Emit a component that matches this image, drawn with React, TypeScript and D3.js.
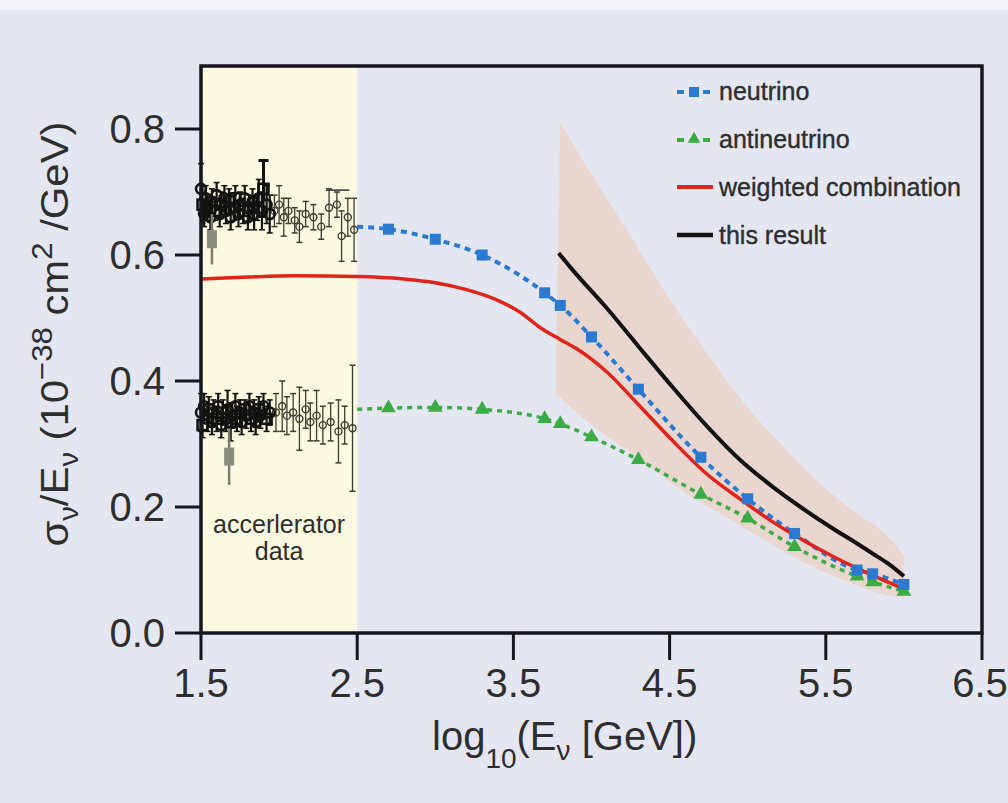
import React from "react";
import * as d3 from "d3";

// ---------- data ----------
const xTicks = [1.5, 2.5, 3.5, 4.5, 5.5, 6.5];
const yTicks = [0.0, 0.2, 0.4, 0.6, 0.8];

const nuX = [2.5, 2.7, 3.0, 3.3, 3.7, 3.8, 4.0, 4.3, 4.7, 5.0, 5.3, 5.7, 5.8, 6.0];
const nuY = [0.645, 0.641, 0.625, 0.6, 0.54, 0.52, 0.47, 0.387, 0.279, 0.213, 0.158, 0.1, 0.094, 0.077];

const anuX = [2.5, 2.7, 3.0, 3.3, 3.7, 3.8, 4.0, 4.3, 4.7, 5.0, 5.3, 5.7, 5.8, 6.0];
const anuY = [0.355, 0.357, 0.358, 0.355, 0.34, 0.332, 0.311, 0.275, 0.22, 0.182, 0.137, 0.09, 0.081, 0.066];

const combX = [1.5, 1.8, 2.1, 2.5, 2.8, 3.0, 3.2, 3.4, 3.55, 3.67, 3.8, 3.9, 4.1, 4.31, 4.52, 4.74, 4.95, 5.15, 5.35, 5.55, 5.75, 6.0];
const combY = [0.562, 0.565, 0.567, 0.566, 0.562, 0.556, 0.545, 0.528, 0.508, 0.485, 0.466, 0.452, 0.414, 0.36, 0.305, 0.252, 0.213, 0.178, 0.148, 0.121, 0.097, 0.07];

const resX = [3.79, 3.88, 4.1, 4.31, 4.52, 4.74, 4.95, 5.15, 5.35, 5.55, 5.7, 5.8, 5.9, 6.0];
const resY = [0.603, 0.576, 0.515, 0.452, 0.39, 0.328, 0.275, 0.234, 0.198, 0.165, 0.142, 0.126, 0.11, 0.09];

const bandUpX = [3.8, 3.97, 4.25, 4.5, 4.75, 5.0, 5.25, 5.46, 5.67, 5.89, 6.0];
const bandUpY = [0.81, 0.74, 0.63, 0.53, 0.44, 0.358, 0.29, 0.238, 0.195, 0.155, 0.124];
const bandLoX = [3.77, 4.0, 4.3, 4.6, 4.82, 5.03, 5.25, 5.46, 5.67, 5.89, 6.0];
const bandLoY = [0.381, 0.33, 0.278, 0.222, 0.19, 0.159, 0.127, 0.1, 0.079, 0.06, 0.056];

// accelerator data, neutrino cluster (dense part / sparse part)
const accNuDenseX = [1.5, 1.51, 1.52, 1.53, 1.54, 1.56, 1.57, 1.59, 1.6, 1.62, 1.63, 1.65, 1.66, 1.68, 1.69, 1.71, 1.72, 1.74, 1.75, 1.77, 1.78, 1.8, 1.81, 1.83, 1.84, 1.86, 1.87, 1.89, 1.9, 1.92, 1.94];
const accNuDenseY = [0.705, 0.68, 0.665, 0.69, 0.675, 0.66, 0.685, 0.67, 0.695, 0.665, 0.68, 0.69, 0.67, 0.685, 0.66, 0.675, 0.69, 0.665, 0.68, 0.67, 0.69, 0.66, 0.675, 0.685, 0.665, 0.675, 0.69, 0.67, 0.705, 0.68, 0.665];
const accNuDenseErr = [0.04, 0.03, 0.02, 0.02, 0.02, 0.02, 0.02, 0.015, 0.02, 0.02, 0.02, 0.02, 0.02, 0.02, 0.02, 0.02, 0.02, 0.02, 0.02, 0.02, 0.02, 0.02, 0.02, 0.02, 0.025, 0.02, 0.03, 0.03, 0.045, 0.03, 0.03];
const accNuSparseX = [1.97, 2.0, 2.03, 2.06, 2.1, 2.13, 2.17, 2.22, 2.27, 2.32, 2.37, 2.4, 2.44, 2.48];
const accNuSparseY = [0.67, 0.68, 0.66, 0.67, 0.655, 0.645, 0.665, 0.66, 0.645, 0.675, 0.68, 0.63, 0.66, 0.64];
const accNuSparseErr = [0.025, 0.03, 0.03, 0.02, 0.02, 0.025, 0.02, 0.02, 0.02, 0.03, 0.02, 0.04, 0.03, 0.05];
// accelerator data, antineutrino cluster
const accAnuDenseX = [1.5, 1.51, 1.52, 1.54, 1.55, 1.57, 1.58, 1.6, 1.61, 1.63, 1.64, 1.66, 1.67, 1.69, 1.7, 1.72, 1.73, 1.75, 1.76, 1.78, 1.79, 1.81, 1.82, 1.84, 1.85, 1.87, 1.88, 1.9, 1.92, 1.94];
const accAnuDenseY = [0.35, 0.33, 0.36, 0.34, 0.355, 0.335, 0.35, 0.34, 0.36, 0.33, 0.35, 0.34, 0.355, 0.335, 0.345, 0.36, 0.34, 0.35, 0.335, 0.355, 0.345, 0.36, 0.34, 0.35, 0.335, 0.355, 0.345, 0.36, 0.34, 0.35];
const accAnuDenseErr = [0.03, 0.02, 0.02, 0.02, 0.02, 0.02, 0.02, 0.02, 0.02, 0.02, 0.02, 0.02, 0.03, 0.03, 0.02, 0.02, 0.02, 0.02, 0.02, 0.015, 0.02, 0.02, 0.02, 0.02, 0.02, 0.02, 0.02, 0.02, 0.02, 0.02];
const accAnuSparseX = [1.98, 2.02, 2.05, 2.09, 2.13, 2.17, 2.2, 2.24, 2.28, 2.33, 2.38, 2.42, 2.47];
const accAnuSparseY = [0.35, 0.36, 0.345, 0.35, 0.34, 0.355, 0.335, 0.345, 0.33, 0.335, 0.32, 0.33, 0.325];
const accAnuSparseErr = [0.03, 0.04, 0.03, 0.03, 0.05, 0.03, 0.03, 0.04, 0.03, 0.03, 0.05, 0.03, 0.1];
// gray outlier squares
const accGrayX = [1.57, 1.68];
const accGrayY = [0.625, 0.28];
const accGrayErr = [0.04, 0.045];

const legendLabels = ["neutrino", "antineutrino", "weighted combination", "this result"];

// ---------- styles ----------
const W = 1008, H = 803;
const BG = "#e4e7f2";
const BLUE = "#2a7ad2";
const GREEN = "#3aab45";
const RED = "#e2231a";
const BLACK = "#121212";
const AXIS = "#16161f";
const TEXT = "#2e2e2e";
const FONT = "'Liberation Sans', Arial, sans-serif";

export default function App() {
  const x = d3.scaleLinear().domain([1.5, 6.5]).range([201, 982]);
  const y = d3.scaleLinear().domain([0, 0.9]).range([633, 66]);

  const zip = (xs: number[], ys: number[]) => xs.map((v, i) => [v, ys[i]] as [number, number]);
  const line = d3.line<[number, number]>().x(d => x(d[0])).y(d => y(d[1])).curve(d3.curveMonotoneX);

  const upPath = line(zip(bandUpX, bandUpY)) || "";
  const loRev = zip(bandLoX, bandLoY).reverse();
  const loPath = d3.line<[number, number]>().x(d => x(d[0])).y(d => y(d[1])).curve(d3.curveMonotoneX)(loRev) || "";
  const bandPath = upPath + "L" + loPath.slice(1) + "Z";

  const nu = zip(nuX, nuY);
  const anu = zip(anuX, anuY);
  const tri = d3.symbol().type(d3.symbolTriangle).size(95)();

  const accPoints = (xs: number[], ys: number[], es: number[], key: string, dense: boolean) =>
    xs.map((v, i) => {
      const c = dense ? "#121210" : "#3c3d33";
      const sw = dense ? 2.6 : 1.4;
      const sq = dense && i % 3 === 1;
      return (
        <g key={key + i}>
          <line x1={x(v)} x2={x(v)} y1={y(ys[i] + es[i])} y2={y(ys[i] - es[i])} stroke={c} strokeWidth={dense ? 2.2 : 1.3} />
          <line x1={x(v) - 3} x2={x(v) + 3} y1={y(ys[i] + es[i])} y2={y(ys[i] + es[i])} stroke={c} strokeWidth={1.5} />
          <line x1={x(v) - 3} x2={x(v) + 3} y1={y(ys[i] - es[i])} y2={y(ys[i] - es[i])} stroke={c} strokeWidth={1.5} />
          {sq ? (
            <rect x={x(v) - 5} y={y(ys[i]) - 5} width={10} height={10} fill="none" stroke={c} strokeWidth={sw} />
          ) : (
            <circle cx={x(v)} cy={y(ys[i])} r={dense ? 5 : 3.5} fill="none" stroke={c} strokeWidth={sw} />
          )}
        </g>
      );
    });

  const legY = [100, 148, 196, 244];

  return (
    <svg width={W} height={H} style={{ position: "absolute", left: 0, top: 0 }} fontFamily={FONT}>
      <rect x={0} y={0} width={W} height={H} fill={BG} />
      <rect x={0} y={0} width={W} height={10} fill="#f4f5fa" />
      {/* accelerator region */}
      <rect x={x(1.5)} y={y(0.9)} width={x(2.5) - x(1.5)} height={y(0) - y(0.9)} fill="#fbf9df" />
      {/* uncertainty band */}
      <path d={bandPath} fill="#e9d6cf" />

      {/* accelerator data */}
      {accPoints(accNuSparseX, accNuSparseY, accNuSparseErr, "ns", false)}
      {accPoints(accAnuSparseX, accAnuSparseY, accAnuSparseErr, "as", false)}
      {accPoints(accNuDenseX, accNuDenseY, accNuDenseErr, "nd", true)}
      {accPoints(accAnuDenseX, accAnuDenseY, accAnuDenseErr, "ad", true)}
      {accGrayX.map((v, i) => (
        <g key={"g" + i}>
          <line x1={x(v)} x2={x(v)} y1={y(accGrayY[i] + accGrayErr[i])} y2={y(accGrayY[i] - accGrayErr[i])} stroke="#7d7f70" strokeWidth={2.5} />
          <rect x={x(v) - 5} y={y(accGrayY[i]) - 9} width={10} height={18} fill="#8a8c7c" />
        </g>
      ))}
      {/* tall I-beam marker */}
      <line x1={x(1.9)} x2={x(1.9)} y1={y(0.75)} y2={y(0.69)} stroke="#111" strokeWidth={3} />
      <line x1={x(1.9) - 5} x2={x(1.9) + 5} y1={y(0.75)} y2={y(0.75)} stroke="#111" strokeWidth={3} />
      <line x1={x(2.3)} x2={x(2.45)} y1={y(0.703)} y2={y(0.703)} stroke="#333" strokeWidth={1.5} />

      {/* curves */}
      <path d={line(anu) || ""} fill="none" stroke={GREEN} strokeWidth={3.5} strokeDasharray="5,5" />
      <path d={line(nu) || ""} fill="none" stroke={BLUE} strokeWidth={4} strokeDasharray="6,5" />
      <path d={line(zip(combX, combY)) || ""} fill="none" stroke={RED} strokeWidth={3.5} />
      <path d={line(zip(resX, resY)) || ""} fill="none" stroke={BLACK} strokeWidth={4} />
      {anu.slice(1).map((p, i) => (
        <path key={"t" + i} d={tri || ""} transform={`translate(${x(p[0])},${y(p[1])})`} fill={GREEN} />
      ))}
      {nu.slice(1).map((p, i) => (
        <rect key={"s" + i} x={x(p[0]) - 5.5} y={y(p[1]) - 5.5} width={11} height={11} fill={BLUE} />
      ))}

      {/* accelerator label */}
      <text x={(x(1.5) + x(2.5)) / 2} y={533} fontSize={25} fill={TEXT} textAnchor="middle">accerlerator</text>
      <text x={(x(1.5) + x(2.5)) / 2} y={560} fontSize={25} fill={TEXT} textAnchor="middle">data</text>

      {/* legend */}
      <g>
        <line x1={677} x2={684} y1={legY[0] - 8} y2={legY[0] - 8} stroke={BLUE} strokeWidth={4} />
        <rect x={689} y={legY[0] - 13} width={10} height={10} fill={BLUE} />
        <line x1={703} x2={710} y1={legY[0] - 8} y2={legY[0] - 8} stroke={BLUE} strokeWidth={4} />
        <line x1={677} x2={684} y1={legY[1] - 8} y2={legY[1] - 8} stroke={GREEN} strokeWidth={4} />
        <path d={tri || ""} transform={`translate(694,${legY[1] - 9}) scale(0.85)`} fill={GREEN} />
        <line x1={703} x2={710} y1={legY[1] - 8} y2={legY[1] - 8} stroke={GREEN} strokeWidth={4} />
        <line x1={677} x2={713} y1={legY[2] - 9} y2={legY[2] - 9} stroke={RED} strokeWidth={4} />
        <line x1={677} x2={713} y1={legY[3] - 9} y2={legY[3] - 9} stroke={BLACK} strokeWidth={4.5} />
        {legendLabels.map((t, i) => (
          <text key={t} x={719} y={legY[i]} fontSize={25} fill={TEXT} stroke={TEXT} strokeWidth={0.4}>{t}</text>
        ))}
      </g>

      {/* frame */}
      <rect x={x(1.5)} y={y(0.9)} width={x(6.5) - x(1.5)} height={y(0) - y(0.9)} fill="none" stroke={AXIS} strokeWidth={3.5} />

      {/* y axis ticks */}
      {yTicks.map(t => (
        <g key={"yt" + t}>
          <line x1={175} x2={x(1.5)} y1={y(t)} y2={y(t)} stroke={AXIS} strokeWidth={3} />
          <text x={165} y={y(t)} dy="0.36em" fontSize={40} fill={TEXT} textAnchor="end">{t.toFixed(1)}</text>
        </g>
      ))}
      {/* x axis ticks */}
      {xTicks.map(t => (
        <g key={"xt" + t}>
          <line x1={x(t)} x2={x(t)} y1={y(0)} y2={660} stroke={AXIS} strokeWidth={3} />
          <text x={Math.min(x(t), 980)} y={697} fontSize={40} fill={TEXT} textAnchor="middle">{t.toFixed(1)}</text>
        </g>
      ))}

      {/* x title */}
      <text x={432} y={750} fontSize={40} fill={TEXT}>
        log<tspan fontSize={28} dy={18}>10</tspan><tspan dy={-18}>(E</tspan><tspan fontSize={28} dy={10}>ν</tspan><tspan dy={-10}> [GeV])</tspan>
      </text>

      {/* y title */}
      <text transform="translate(68,334) rotate(-90)" fontSize={39} fill={TEXT} textAnchor="middle" textLength={425} lengthAdjust="spacingAndGlyphs">
        σ<tspan fontSize={27} dy={10}>ν</tspan><tspan dy={-10}>/E</tspan><tspan fontSize={27} dy={10}>ν</tspan><tspan dy={-10}> (10</tspan><tspan fontSize={29} dy={-16}>−38</tspan><tspan dy={16}> cm</tspan><tspan fontSize={29} dy={-16}>2</tspan><tspan dy={16}> /GeV)</tspan>
      </text>
    </svg>
  );
}
